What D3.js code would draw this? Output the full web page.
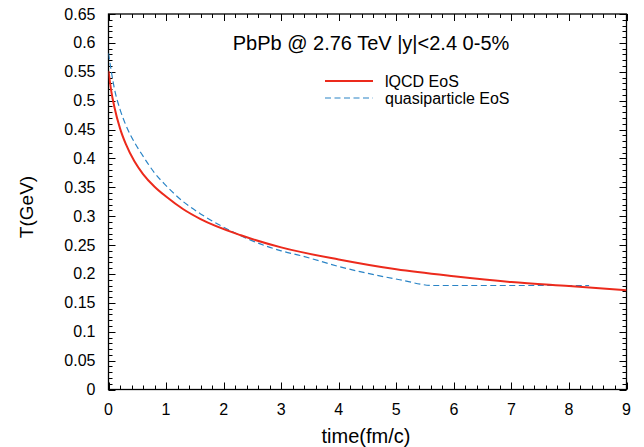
<!DOCTYPE html>
<html><head><meta charset="utf-8">
<script src="https://cdn.jsdelivr.net/npm/d3@7"></script>
<style>
html,body{margin:0;padding:0;background:#fff;}
text{font-family:"Liberation Sans",Arial,sans-serif;fill:#000;}
</style></head>
<body><svg id="c" width="644" height="447"></svg>
<script>
const title = "PbPb @ 2.76 TeV |y|<2.4 0-5%";
const xLabel = "time(fm/c)";
const yLabel = "T(GeV)";
const seriesNames = ["lQCD EoS", "quasiparticle EoS"];
const xTicks = [0,1,2,3,4,5,6,7,8,9];
const yTicks = [0,0.05,0.1,0.15,0.2,0.25,0.3,0.35,0.4,0.45,0.5,0.55,0.6,0.65];
const yTickLabels = ["0","0.05","0.1","0.15","0.2","0.25","0.3","0.35","0.4","0.45","0.5","0.55","0.6","0.65"];

const lqcdTime = [0, 0.05, 0.1, 0.2, 0.3, 0.45, 0.6, 0.8, 1.0, 1.3, 1.6, 2.3, 3.0, 4.0, 5.0, 6.0, 7.0, 8.0, 9.0];
const lqcdT    = [0.551, 0.515, 0.49, 0.452, 0.425, 0.395, 0.373, 0.351, 0.334, 0.312, 0.295, 0.267, 0.246, 0.225, 0.208, 0.196, 0.186, 0.179, 0.172];
const quasiTime = [0, 0.05, 0.1, 0.2, 0.3, 0.45, 0.6, 0.8, 1.0, 1.3, 1.6, 2.0, 2.46, 3.0, 3.33, 4.0, 4.37, 5.06, 5.64, 8.35];
const quasiT    = [0.582, 0.55, 0.522, 0.485, 0.458, 0.428, 0.404, 0.375, 0.353, 0.325, 0.304, 0.281, 0.259, 0.24, 0.232, 0.213, 0.204, 0.19, 0.18, 0.18];

const svg = d3.select("#c");
const L = 108.5, R = 626.5, T = 14, B = 389.5;
const x = d3.scaleLinear().domain([0,9]).range([L,R]);
const y = d3.scaleLinear().domain([0,0.65]).range([B,T]);

const g = svg.append("g");
g.append("rect").attr("x",L).attr("y",T).attr("width",R-L).attr("height",B-T)
 .attr("fill","none").attr("stroke","#000").attr("stroke-width",1.3);

const xMinor = d3.range(0, 9.0001, 0.2);
const yMinor = d3.range(0, 0.6501, 0.01);
const tickG = g.append("g").attr("stroke","#000").attr("stroke-width",1);
function isMajorX(v){return Math.abs(v-Math.round(v))<1e-6;}
function isMajorY(v){return Math.abs(v/0.05-Math.round(v/0.05))<1e-6;}
xMinor.forEach(v=>{
  const len = isMajorX(v)?7:4;
  const px = Math.round(x(v))+0.5;
  tickG.append("line").attr("x1",px).attr("x2",px).attr("y1",B).attr("y2",B-len);
  tickG.append("line").attr("x1",px).attr("x2",px).attr("y1",T).attr("y2",T+len);
});
yMinor.forEach(v=>{
  const len = isMajorY(v)?7:4;
  const py = Math.round(y(v))+0.5;
  tickG.append("line").attr("x1",L).attr("x2",L+len).attr("y1",py).attr("y2",py);
  tickG.append("line").attr("x1",R).attr("x2",R-len).attr("y1",py).attr("y2",py);
});

xTicks.forEach(v=>{
  g.append("text").attr("x",x(v)).attr("y",B+25).attr("text-anchor","middle")
   .style("font-size","16px").text(String(v));
});
yTicks.forEach((v,i)=>{
  g.append("text").attr("x",L-13).attr("y",y(v)+5.5).attr("text-anchor","end")
   .style("font-size","16px").text(yTickLabels[i]);
});

svg.append("text").attr("x",366).attr("y",443).attr("text-anchor","middle")
  .style("font-size","20px").text(xLabel);
svg.append("text").attr("transform","translate(33,207) rotate(-90)").attr("text-anchor","middle")
  .style("font-size","19px").text(yLabel);

svg.append("text").attr("x",371).attr("y",50).attr("text-anchor","middle")
  .style("font-size","20px").text(title);

const line = d3.line().x(d=>x(d[0])).y(d=>y(d[1])).curve(d3.curveMonotoneX);
const clip = svg.append("defs").append("clipPath").attr("id","pc");
clip.append("rect").attr("x",L).attr("y",T).attr("width",R-L).attr("height",B-T);
const lq = lqcdTime.map((t,i)=>[t,lqcdT[i]]);
const qp = quasiTime.map((t,i)=>[t,quasiT[i]]);
const colors = ["#ec2a1c", "#2a84c6"];
svg.append("path").attr("d",line(qp)).attr("fill","none").attr("stroke",colors[1])
  .attr("stroke-width",1.2).attr("stroke-dasharray","6,3.5").attr("clip-path","url(#pc)");
svg.append("path").attr("d",line(lq)).attr("fill","none").attr("stroke",colors[0])
  .attr("stroke-width",2).attr("clip-path","url(#pc)");

const lg = svg.append("g");
[0,1].forEach(i=>{
  const ly = 81 + i*17;
  lg.append("line").attr("x1",325).attr("x2",373).attr("y1",ly).attr("y2",ly)
    .attr("stroke",colors[i]).attr("stroke-width",i===0?2:1.2)
    .attr("stroke-dasharray",i===0?null:"6,3.5");
  lg.append("text").attr("x",385).attr("y",ly+5.5).style("font-size","16px").text(seriesNames[i]);
});
</script></body></html>
